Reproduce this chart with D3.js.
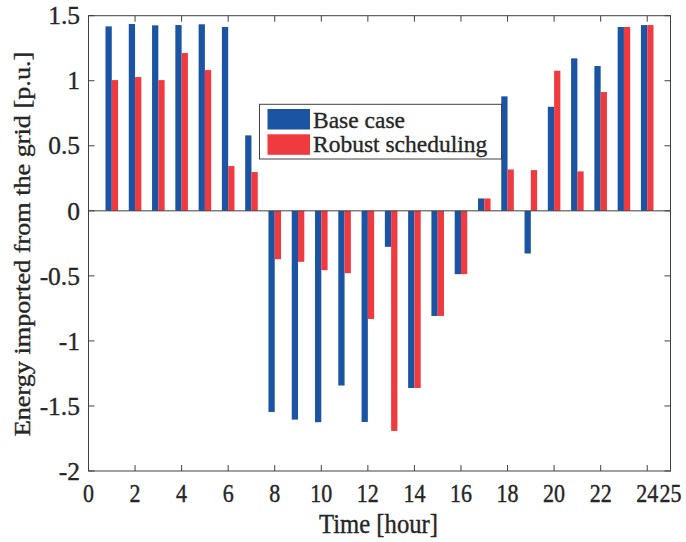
<!DOCTYPE html>
<html>
<head>
<meta charset="utf-8">
<script src="https://d3js.org/d3.v7.min.js"></script>
<style>
  body { margin: 0; background: #fff; }
  text { font-family: "Liberation Serif", "Times New Roman", serif; fill: #262626; stroke: #262626; stroke-width: 0.35px; }
</style>
</head>
<body>
<div id="chart"></div>
<script>
// hours 1..24
var hours = d3.range(1, 25);
var seriesNames = ["Base case", "Robust scheduling"];
var baseCase = [1.418, 1.436, 1.426, 1.428, 1.434, 1.413, 0.58, -1.546, -1.605, -1.625, -1.343, -1.623,
  -0.277, -1.362, -0.808, -0.487, 0.095, 0.88, -0.328, 0.80, 1.172, 1.113, 1.413, 1.428];
var robust = [1.005, 1.028, 1.005, 1.213, 1.082, 0.344, 0.298, -0.372, -0.392, -0.456, -0.479, -0.831,
  -1.692, -1.362, -0.808, -0.487, 0.095, 0.318, 0.313, 1.077, 0.303, 0.913, 1.413, 1.428];
var xTicks = [0, 2, 4, 6, 8, 10, 12, 14, 16, 18, 20, 22, 24, 25];
var yTicks = [-2, -1.5, -1, -0.5, 0, 0.5, 1, 1.5];
var colors = ["#1c54a4", "#ef3a40"];

var svgWidth = 686, svgHeight = 542;
var margin = { top: 15.7, right: 15.5, bottom: 71, left: 88.5 };
var width = svgWidth - margin.left - margin.right;
var height = svgHeight - margin.top - margin.bottom;
var axisColor = "#404040";

var svg = d3.select("#chart")
  .append("svg")
  .attr("width", svgWidth)
  .attr("height", svgHeight);

var chartGroup = svg.append("g")
  .attr("transform", `translate(${margin.left}, ${margin.top})`);

var xScale = d3.scaleLinear().domain([0, 25]).range([0, width]);
var yScale = d3.scaleLinear().domain([-2, 1.5]).range([height, 0]);
var barW = xScale(0.27) - xScale(0);

// bars
[baseCase, robust].forEach(function(vals, si) {
  chartGroup.append("g")
    .selectAll("rect")
    .data(hours)
    .enter()
    .append("rect")
    .attr("x", (d, i) => si === 0 ? xScale(d) - barW : xScale(d))
    .attr("width", barW)
    .attr("y", (d, i) => yScale(Math.max(0, vals[i])))
    .attr("height", (d, i) => Math.abs(yScale(vals[i]) - yScale(0)))
    .attr("fill", colors[si]);
});

// zero line
chartGroup.append("line")
  .attr("x1", 0).attr("x2", width)
  .attr("y1", yScale(0)).attr("y2", yScale(0))
  .attr("stroke", axisColor).attr("stroke-width", 1);

// ticks (inward, all four sides)
var tickLen = 6;
var tg = chartGroup.append("g").attr("stroke", axisColor).attr("stroke-width", 1);
xTicks.forEach(function(t) {
  tg.append("line").attr("x1", xScale(t)).attr("x2", xScale(t)).attr("y1", height).attr("y2", height - tickLen);
  tg.append("line").attr("x1", xScale(t)).attr("x2", xScale(t)).attr("y1", 0).attr("y2", tickLen);
});
yTicks.forEach(function(t) {
  tg.append("line").attr("x1", 0).attr("x2", tickLen).attr("y1", yScale(t)).attr("y2", yScale(t));
  tg.append("line").attr("x1", width).attr("x2", width - tickLen).attr("y1", yScale(t)).attr("y2", yScale(t));
});

// box
chartGroup.append("rect")
  .attr("x", 0).attr("y", 0)
  .attr("width", width).attr("height", height)
  .attr("fill", "none")
  .attr("stroke", axisColor).attr("stroke-width", 1);

// tick labels (x-axis glyphs look stretched vertically in the original)
xTicks.forEach(function(t) {
  chartGroup.append("text")
    .attr("transform", `translate(${xScale(t)}, ${height + 31}) scale(1, 1.18)`)
    .attr("text-anchor", "middle")
    .style("font-size", "22px")
    .text(t);
});
yTicks.forEach(function(t) {
  chartGroup.append("text")
    .attr("x", -8.5)
    .attr("y", yScale(t) + 8.7)
    .attr("text-anchor", "end")
    .style("font-size", "25.5px")
    .text(t);
});

// axis titles
chartGroup.append("text")
  .attr("transform", `translate(${width / 2 - 1}, ${height + 62}) scale(1, 1.12)`)
  .attr("text-anchor", "middle")
  .style("font-size", "24.7px")
  .text("Time [hour]");

chartGroup.append("text")
  .attr("transform", `translate(${30 - margin.left}, ${244 - margin.top}) scale(1, 1.16) rotate(-90)`)
  .attr("text-anchor", "middle")
  .style("font-size", "22.6px")
  .text("Energy imported from the grid [p.u.]");

// legend
var legend = svg.append("g").attr("transform", "translate(259.5, 104.3)");
legend.append("rect")
  .attr("width", 242).attr("height", 54.7)
  .attr("fill", "#fff")
  .attr("stroke", axisColor).attr("stroke-width", 1);
seriesNames.forEach(function(name, i) {
  legend.append("rect")
    .attr("x", 8).attr("y", 4.7 + i * 25.3)
    .attr("width", 42.5).attr("height", 20.5)
    .attr("fill", colors[i]);
  legend.append("text")
    .attr("x", 53.5).attr("y", 24 + i * 24)
    .style("font-size", "23.5px")
    .text(name);
});
</script>
</body>
</html>
